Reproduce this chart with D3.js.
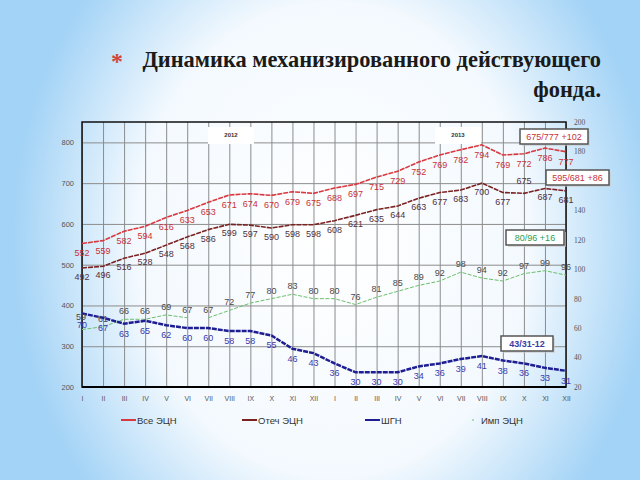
<!DOCTYPE html>
<html>
<head>
<meta charset="utf-8">
<script src="https://cdn.jsdelivr.net/npm/d3@7"></script>
<style>
  body { margin: 0; padding: 0; }
  #main { width: 640px; height: 480px; }
</style>
</head>
<body>
<div id="main"></div>
<script>
// months, two years side by side
var months = ["I", "II", "III", "IV", "V", "VI", "VII", "VIII", "IX", "X", "XI", "XII",
  "I", "II", "III", "IV", "V", "VI", "VII", "VIII", "IX", "X", "XI", "XII"];
var years = ["2012", "2013"];

// left axis series
var allEsp = [552, 559, 582, 594, 616, 633, 653, 671, 674, 670, 679, 675,
  688, 697, 715, 729, 752, 769, 782, 794, 769, 772, 786, 777];
var domEsp = [492, 496, 516, 528, 548, 568, 586, 599, 597, 590, 598, 598,
  608, 621, 635, 644, 663, 677, 683, 700, 677, 675, 687, 681];

// right axis series
var shgn = [70, 67, 63, 65, 62, 60, 60, 58, 58, 55, 46, 43,
  36, 30, 30, 30, 34, 36, 39, 41, 38, 36, 33, 31];
var impEsp = [59, 61, 66, 66, 69, 67, 67, 72, 77, 80, 83, 80,
  80, 76, 81, 85, 89, 92, 98, 94, 92, 97, 99, 96];

var leftTicks = [200, 300, 400, 500, 600, 700, 800];
var rightTicks = [20, 40, 60, 80, 100, 120, 140, 160, 180, 200];
var seriesNames = ["Все ЭЦН", "Отеч ЭЦН", "ШГН", "Имп ЭЦН"];
var notes = ["675/777 +102", "595/681 +86", "80/96 +16", "43/31-12"];

var W = 640, H = 480;
var plot = { left: 82, right: 566, top: 122, bottom: 387 };
var font = "'Liberation Sans', Arial, sans-serif";

var svg = d3.select("#main").append("svg")
  .attr("width", W)
  .attr("height", H);

// slide background
var defs = svg.append("defs");
var grad = defs.append("radialGradient")
  .attr("id", "bg")
  .attr("cx", 0.52).attr("cy", 0.5).attr("r", 0.5)
  .attr("gradientTransform", "translate(0.52,0.5) scale(1,1.6) translate(-0.52,-0.5)");
grad.append("stop").attr("offset", "0%").attr("stop-color", "#ffffff");
grad.append("stop").attr("offset", "62%").attr("stop-color", "#f3f9fe");
grad.append("stop").attr("offset", "100%").attr("stop-color", "#a3d3f6");

svg.append("rect")
  .attr("width", W).attr("height", H)
  .attr("fill", "url(#bg)");

// title
svg.append("text")
  .attr("x", 117).attr("y", 69)
  .attr("text-anchor", "middle")
  .style("font-family", "'Liberation Serif', serif")
  .style("font-size", "24px")
  .style("font-weight", "bold")
  .style("fill", "#d0463c")
  .text("*");

svg.append("text")
  .attr("x", 601).attr("y", 67)
  .attr("text-anchor", "end")
  .style("font-family", "'Liberation Serif', 'Times New Roman', serif")
  .style("font-size", "22.4px")
  .style("font-weight", "bold")
  .style("fill", "#1a1a1a")
  .text("Динамика механизированного действующего");

svg.append("text")
  .attr("x", 601).attr("y", 97)
  .attr("text-anchor", "end")
  .style("font-family", "'Liberation Serif', 'Times New Roman', serif")
  .style("font-size", "22.4px")
  .style("font-weight", "bold")
  .style("fill", "#1a1a1a")
  .text("фонда.");

// scales
var x = d3.scalePoint()
  .domain(d3.range(months.length))
  .range([plot.left, plot.right]);

var yL = d3.scaleLinear()
  .domain([200, 850])
  .range([plot.bottom, plot.top]);

var yR = d3.scaleLinear()
  .domain([20, 200])
  .range([plot.bottom, plot.top]);

var g = svg.append("g");

// grid
g.append("g")
  .attr("class", "grid")
  .attr("transform", "translate(" + plot.left + ",0)")
  .call(d3.axisLeft(yL).tickValues(leftTicks.slice(1)).tickSize(-(plot.right - plot.left)).tickFormat(""))
  .call(function(s) { s.select(".domain").remove(); })
  .selectAll("line").attr("stroke", "#8c8c8c").attr("stroke-width", 1);

g.append("g")
  .attr("class", "grid")
  .attr("transform", "translate(0," + plot.bottom + ")")
  .call(d3.axisBottom(x).tickSize(-(plot.bottom - plot.top)).tickFormat(""))
  .call(function(s) { s.select(".domain").remove(); })
  .selectAll("line").attr("stroke", "#8c8c8c").attr("stroke-width", 1);

// frame
g.append("rect")
  .attr("x", plot.left).attr("y", plot.top)
  .attr("width", plot.right - plot.left)
  .attr("height", plot.bottom - plot.top)
  .attr("fill", "none")
  .attr("stroke", "#111")
  .attr("stroke-width", 1.5);
g.append("line")
  .attr("x1", plot.left).attr("x2", plot.right)
  .attr("y1", plot.bottom).attr("y2", plot.bottom)
  .attr("stroke", "#000").attr("stroke-width", 2);

// axes labels
var leftAxis = g.append("g")
  .attr("transform", "translate(" + (plot.left - 5) + ",0)")
  .call(d3.axisLeft(yL).tickValues(leftTicks).tickSize(0));
leftAxis.select(".domain").remove();
leftAxis.selectAll("text")
  .style("font-family", font).style("font-size", "7.5px").style("fill", "#555");

// the 160 label sits under the "595/681" box in the original
var rightAxis = g.append("g")
  .attr("transform", "translate(" + (plot.right + 5) + ",0)")
  .call(d3.axisRight(yR).tickValues(rightTicks.filter(function(t) { return t != 160; })).tickSize(0));
rightAxis.select(".domain").remove();
rightAxis.selectAll("text")
  .style("font-family", "'Liberation Serif', serif").style("font-size", "7.5px").style("fill", "#555");

var bottomAxis = g.append("g")
  .attr("transform", "translate(0," + (plot.bottom + 6) + ")")
  .call(d3.axisBottom(x).tickSize(0).tickFormat(function(i) { return months[i]; }));
bottomAxis.select(".domain").remove();
bottomAxis.selectAll("text")
  .style("font-family", font).style("font-size", "7px").style("fill", "#555");

// year boxes
var yearX = [231, 458];
years.forEach(function(yr, i) {
  g.append("rect")
    .attr("x", yearX[i] - 23).attr("y", 127)
    .attr("width", 46).attr("height", 17)
    .attr("fill", "#ffffff");
  g.append("text")
    .attr("x", yearX[i]).attr("y", 137)
    .attr("text-anchor", "middle")
    .style("font-family", font).style("font-size", "6px").style("font-weight", "bold")
    .style("fill", "#333")
    .text(yr);
});

// lines
function drawSeries(values, scale, color, width, dash, from, to) {
  var idx = d3.range(from, to);
  var line = d3.line()
    .x(function(i) { return x(i); })
    .y(function(i) { return scale(values[i]); });
  g.append("path")
    .datum(idx)
    .attr("d", line)
    .attr("fill", "none")
    .attr("stroke", color)
    .attr("stroke-width", width)
    .attr("stroke-dasharray", dash);
}

function drawLabels(values, scale, labelColor, dxFn, dyFn) {
  g.selectAll(null)
    .data(values)
    .enter().append("text")
    .attr("x", function(d, i) { return x(i) + dxFn(i); })
    .attr("y", function(d, i) { return scale(d) + dyFn(i); })
    .attr("text-anchor", "middle")
    .style("font-family", font)
    .style("font-size", "9px")
    .style("fill", labelColor)
    .text(function(d) { return d; });
}

var red = "#d8383f", brown = "#7a2222", blue = "#1e1e92", green = "#6cbf6c";

drawSeries(impEsp, yR, green, 1, "4,1.5", 0, 6);
drawSeries(impEsp, yR, green, 1, "4,1.5", 6, 24);
drawSeries(shgn, yR, blue, 2.5, "5,1", 0, 24);
drawSeries(domEsp, yL, brown, 1.6, "5,1", 0, 24);
drawSeries(allEsp, yL, red, 1.6, "5,1", 0, 24);

function zero() { return 0; }
drawLabels(allEsp, yL, "#c8323a", zero, function(i) { return 13; });
drawLabels(domEsp, yL, "#4f3242", zero, function(i) { return i == 21 ? -9 : 12; });
drawLabels(shgn, yR, "#3a3aae", zero, function(i) { return i == 0 ? 15 : 13; });
drawLabels(impEsp, yR, "#4a4a4a", function(i) { return i == 0 ? -1 : 0; }, function(i) { return i == 0 ? -10 : -5; });

// note boxes
var noteBox = [
  { x: 520, y: 129, w: 68, color: "#c8323a" },
  { x: 546, y: 170, w: 63, color: "#c8323a" },
  { x: 506, y: 230, w: 58, color: "#2e9e4e" },
  { x: 501, y: 336, w: 52, color: "#3a3aa8" }
];
notes.forEach(function(txt, i) {
  var b = noteBox[i];
  g.append("rect")
    .attr("x", b.x + 2).attr("y", b.y + 2)
    .attr("width", b.w).attr("height", 15)
    .attr("fill", "#c8c8c8").attr("opacity", 0.6);
  g.append("rect")
    .attr("x", b.x).attr("y", b.y)
    .attr("width", b.w).attr("height", 15)
    .attr("fill", "#ffffff")
    .attr("stroke", "#555")
    .attr("stroke-width", 1.5);
  g.append("text")
    .attr("x", b.x + b.w / 2).attr("y", b.y + 11)
    .attr("text-anchor", "middle")
    .style("font-family", font)
    .style("font-size", "9px")
    .style("font-weight", i == 3 ? "bold" : "normal")
    .style("fill", b.color)
    .text(txt);
});

// legend
var legendX = [121, 242, 365, 466];
var legendColor = [red, brown, blue, green];
var legend = svg.selectAll(".legend")
  .data(seriesNames)
  .enter().append("g")
  .attr("class", "legend")
  .attr("transform", function(d, i) { return "translate(" + legendX[i] + ",420)"; });

legend.append("line")
  .attr("x1", function(d, i) { return i == 3 ? 6 : 0; })
  .attr("x2", function(d, i) { return i == 3 ? 8 : 15; })
  .attr("y1", 0).attr("y2", 0)
  .attr("stroke", function(d, i) { return legendColor[i]; })
  .attr("stroke-width", function(d, i) { return i == 3 ? 1 : 2; });

legend.append("text")
  .attr("x", function(d, i) { return i == 3 ? 15 : 16; })
  .attr("y", 3.5)
  .style("font-family", font)
  .style("font-size", "9.5px")
  .style("fill", "#333")
  .text(function(d) { return d; });
</script>
</body>
</html>
